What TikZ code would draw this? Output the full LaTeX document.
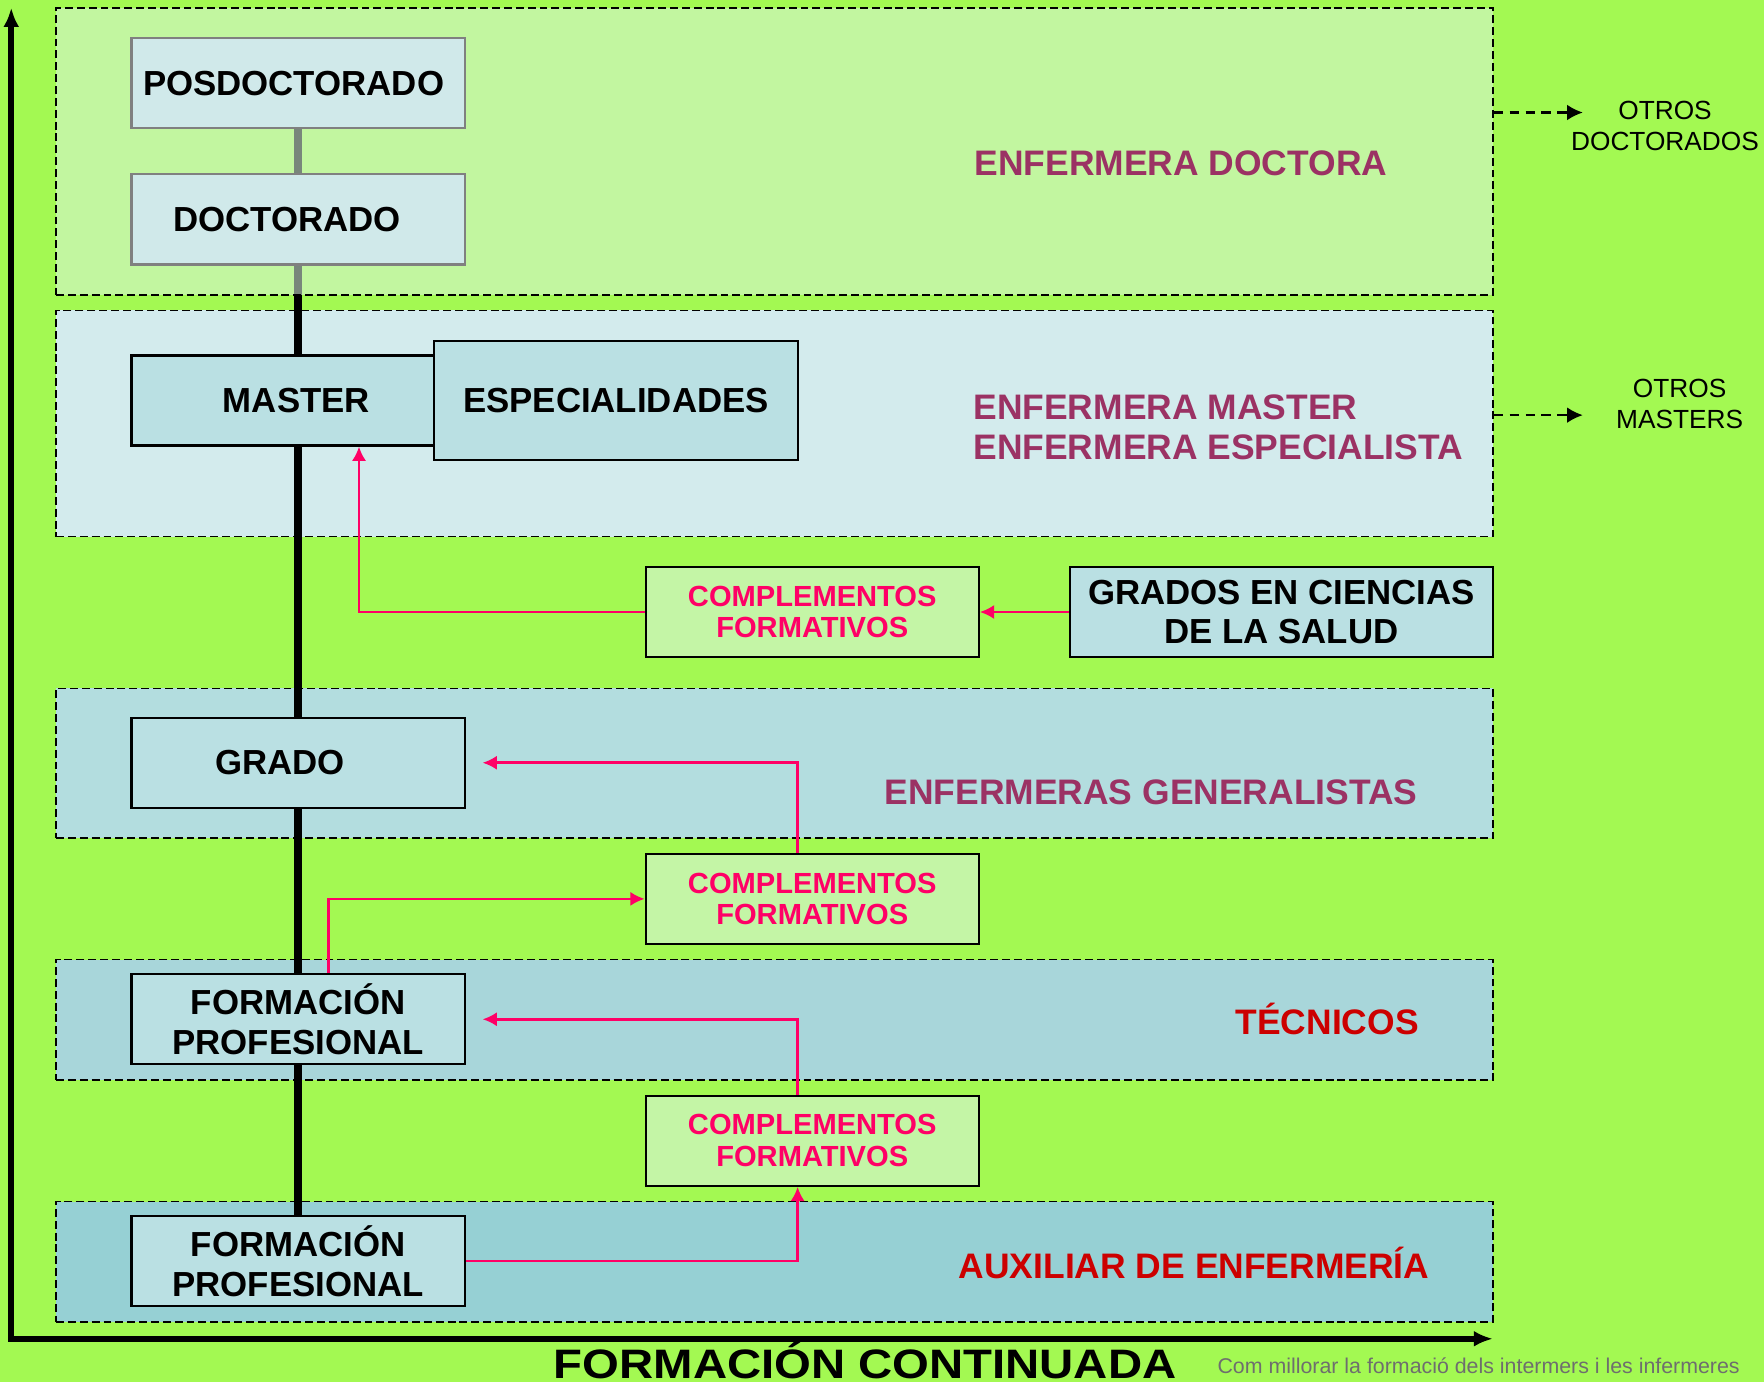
\documentclass[tikz,border=0pt]{standalone}
\usepackage{fontspec}
\setmainfont{Liberation Sans}
\usetikzlibrary{arrows.meta}
\usetikzlibrary{calc}

\definecolor{bggreen}{RGB}{163,249,82}
\definecolor{veil}{RGB}{220,245,225}
\definecolor{bandtwo}{RGB}{211,235,237}
\definecolor{bandthree}{RGB}{179,221,223}
\definecolor{bandfour}{RGB}{168,214,218}
\definecolor{bandfive}{RGB}{150,208,212}
\definecolor{boxblue}{RGB}{186,224,227}
\definecolor{topblue}{RGB}{208,233,234}
\definecolor{compgreen}{RGB}{196,245,166}
\definecolor{plum}{RGB}{155,50,100}
\definecolor{techred}{RGB}{204,0,0}
\definecolor{pinkred}{RGB}{255,0,102}
\definecolor{creditgray}{RGB}{110,110,110}

\pgfdeclarelayer{background}
\pgfsetlayers{background,main}

\begin{document}
\begin{tikzpicture}[x = 0.025cm, y = -0.025cm,
  box/.style = {draw = black, line width = 1.4pt, fill = boxblue,
    minimum width = 7.4cm, minimum height = 2cm, align = center,
    inner sep = 0pt, font = \fontsize{22}{25}\selectfont\bfseries},
  topbox/.style = {box, draw = gray, fill = topblue},
  compbox/.style = {box, fill = compgreen, text = pinkred,
    font = \fontsize{18.4}{20}\selectfont\bfseries},
  band/.style = {draw = black, dash pattern = on 5pt off 2.5pt,
    line width = 1pt, minimum width = 31.925cm, inner sep = 0pt},
  spine/.style = {line width = 5pt},
  link/.style = {draw = pinkred, line width = 1.6pt,
    -{Latex[length = 9pt, width = 9pt]}},
  axis/.style = {line width = 3.8pt, {Latex[length = 12pt, width = 10pt]}-{Latex[length = 12pt, width = 10pt]}},
  dasharrow/.style = {line width = 1.5pt, dash pattern = on 6pt off 4pt,
    -{Latex[length = 10pt, width = 10pt]}},
  tag/.style = {anchor = west, inner sep = 0pt, align = left,
    font = \fontsize{22.4}{25}\selectfont\bfseries},
  side/.style = {inner sep = 0pt, align = center,
    font = \fontsize{16.6}{19.2}\selectfont}]

  \useasboundingbox (0,0) rectangle (1568,1228.4);

  \node[topbox] (posdoc) at (265,74) {POSDOCTORADO\hspace*{0.2cm}};
  \node[topbox] (doc) at (265,195) {DOCTORADO\hspace*{0.5cm}};
  \node[box, minimum width = 6.725cm] (master) at (251.5,356) {\hspace*{0.6cm}MASTER};
  \node[box, minimum width = 8.075cm, minimum height = 2.65cm] (esp) at (547.5,356) {ESPECIALIDADES};
  \node[compbox] (comp1) at (722,544) {COMPLEMENTOS\\FORMATIVOS};
  \node[box, minimum width = 9.4cm] (grados) at (1139,544) {GRADOS EN CIENCIAS\\DE LA SALUD};
  \node[box] (grado) at (265,678) {GRADO\hspace*{0.8cm}};
  \node[compbox] (comp2) at (722,799) {COMPLEMENTOS\\FORMATIVOS};
  \node[box] (fp1) at (265,906) {FORMACIÓN\\PROFESIONAL};
  \node[compbox] (comp3) at (722,1014) {COMPLEMENTOS\\FORMATIVOS};
  \node[box] (fp2) at (265,1121) {FORMACIÓN\\PROFESIONAL};

  \begin{pgfonlayer}{background}
    \fill[bggreen] (0,0) rectangle (1568,1228.4);
    \node[band, fill = bandtwo, minimum height = 5.025cm] (band2) at (688.5,376.5) {};
    \node[band, fill = bandthree, minimum height = 3.325cm] (band3) at (688.5,678.5) {};
    \node[band, fill = bandfour, minimum height = 2.675cm] (band4) at (688.5,906.5) {};
    \node[band, fill = bandfive, minimum height = 2.675cm] (band5) at (688.5,1121.5) {};
    \draw[spine] (posdoc) -- (doc);
    \draw[spine] (doc) -- (grado);
    \draw[spine] (grado) -- (fp1);
    \draw[spine] (fp1) -- (fp2);
    \node[band, fill = veil, fill opacity = 0.55, minimum height = 6.375cm] (band1) at (688.5,134.5) {};
  \end{pgfonlayer}

  \draw[link] (grados) -- (comp1);
  \draw[link] (comp1.west) -| ([xshift = 1.69cm]master.south);
  \draw[link, shorten > = 3.75mm] ([xshift = -3.25mm]comp2.north) |- (grado.east);
  \draw[link] ([xshift = 0.675cm]fp1.north) |- (comp2.west);
  \draw[link, shorten > = 3.75mm] ([xshift = -3.25mm]comp3.north) |- (fp1.east);
  \draw[link] (fp2.east) -| ([xshift = -3.25mm]comp3.south);

  \node[tag, text = plum] (doctora) at (866,145) {ENFERMERA DOCTORA};
  \node[tag, text = plum] (especialista) at (865,380) {ENFERMERA MASTER\\ENFERMERA ESPECIALISTA};
  \node[tag, text = plum] (generalistas) at (786,704) {ENFERMERAS GENERALISTAS};
  \node[tag, text = techred] (tecnicos) at (1098,906) {TÉCNICOS};
  \node[tag, text = techred] (auxiliar) at (852,1123) {AUXILIAR DE ENFERMERÍA};

  \coordinate (odoc) at (1407,100);
  \coordinate (omas) at (1407,369);
  \draw[dasharrow] (band1.east |- odoc) -- (odoc);
  \draw[dasharrow] (band2.east |- omas) -- (omas);
  \node[side] (otrosdoc) at (1480,112) {OTROS\\DOCTORADOS};
  \node[side] (otrosmas) at (1493,359) {OTROS\\MASTERS};

  \coordinate (O) at (10,1190);
  \coordinate (ytop) at (10,7);
  \coordinate (xend) at (1327,1190);
  \draw[axis] (ytop) -- (O) -- (xend);

  \node[anchor = base, inner sep = 0pt, font = \fontsize{26}{28}\selectfont\bfseries] (continuada) at (769,1225.5) {\scalebox{1.15}[1]{FORMACIÓN CONTINUADA}};
  \node[anchor = base west, inner sep = 0pt, text = creditgray, font = \fontsize{13.5}{15}\selectfont] (credit) at (1082,1221) {Com millorar la formació dels intermers i les infermeres};
\end{tikzpicture}
\end{document}
